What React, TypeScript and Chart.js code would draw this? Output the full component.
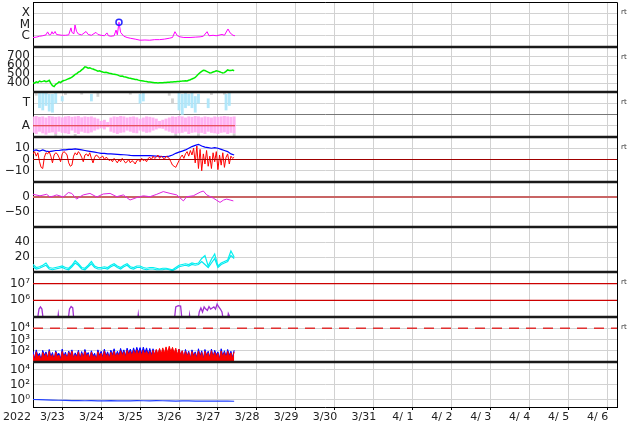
import React, { useEffect, useRef } from 'react';
import { Chart, registerables } from 'chart.js';
Chart.register(...registerables);

// ---------- tick labels ----------
const dayLabels = ['3/23', '3/24', '3/25', '3/26', '3/27', '3/28', '3/29', '3/30', '3/31', '4/ 1', '4/ 2', '4/ 3', '4/ 4', '4/ 5', '4/ 6'];
const yearLabel = '2022';
const xrayTickValues = [1e-6, 1e-5, 1e-4];
const xrayTickLabels = ['C', 'M', 'X'];
const speedTickValues = [400, 500, 600, 700];
const sectorTickValues = [0.5, 1, 1.5];
const sectorTickLabels = ['A', '', 'T'];
const bTickValues = [-10, 0, 10];
const dstTickValues = [-50, 0];
const p6TickValues = [20, 40];
const p7TickValues = [1e6, 1e7];
const p7TickLabels = ['10⁶', '10⁷'];
const p8TickValues = [1e2, 1e3, 1e4];
const p8TickLabels = ['10²', '10³', '10⁴'];
const p9TickValues = [1, 1e2, 1e4];
const p9TickLabels = ['10⁰', '10²', '10⁴'];
const rtLabel = 'rt';

// ---------- data (x in hours since 2022-03-23 00:00 UT) ----------
const dataEndHour = 124.5;

const xrayHours = [0, 2, 4, 6, 8, 9, 10, 11, 11.7, 12.5, 13.6, 14.5, 16, 18, 20, 22, 23.4, 24, 25.2, 25.9, 26.8, 28, 30, 32.7, 34, 36, 38.8, 40, 42, 44, 45.6, 46.5, 48, 50, 51.2, 52, 53, 54, 56, 58, 60, 63, 66, 69, 72, 75, 78, 81, 84, 86, 87.5, 89, 90.6, 93, 96.8, 100, 103, 105, 107.3, 108.5, 111, 113, 116.5, 118, 120.2, 121.5, 123.3, 124.5];
const xrayFlux = [7e-7, 7.5e-7, 9e-7, 1e-6, 1.2e-6, 2.2e-6, 1.2e-6, 1.3e-6, 2.3e-6, 1.4e-6, 2.4e-6, 1.3e-6, 1.2e-6, 1.1e-6, 1.1e-6, 1.2e-6, 5e-6, 2e-6, 1.5e-6, 9e-6, 2.5e-6, 1.4e-6, 1.2e-6, 2.4e-6, 1.3e-6, 1.1e-6, 2e-6, 1.3e-6, 1.1e-6, 1e-6, 1.8e-6, 1e-6, 9e-7, 1e-6, 3.2e-6, 1.2e-6, 1.6e-5, 2e-6, 9e-7, 7e-7, 6e-7, 5e-7, 4e-7, 4.2e-7, 4e-7, 4.5e-7, 4.5e-7, 5e-7, 6e-7, 7e-7, 2.3e-6, 1e-6, 8e-7, 7e-7, 7e-7, 7.5e-7, 8e-7, 9e-7, 2.3e-6, 1e-6, 1.1e-6, 1e-6, 1.3e-6, 1.1e-6, 4e-6, 1.8e-6, 1.1e-6, 1e-6];
const flareHours = [53];
const flareFlux = [1.6e-5];

// solar wind speed, hourly
const speed = [
  403, 398, 412, 405, 422, 415, 418, 425, 414, 420,
  430, 395, 370, 360, 385, 395, 412, 405, 420, 428,
  432, 440, 448, 455, 465, 480, 495, 505, 520, 530,
  545, 560, 580, 575, 565, 570, 560, 555, 548, 540,
  532, 536, 528, 522, 518, 520, 514, 508, 505, 500,
  498, 495, 490, 482, 476, 478, 470, 466, 462, 456,
  452, 448, 444, 440, 438, 432, 428, 425, 422, 418,
  416, 412, 410, 408, 406, 404, 404, 400, 402, 403,
  404, 405, 406, 408, 409, 410, 411, 413, 414, 416,
  418, 420, 421, 423, 425, 422, 430, 436, 445, 452,
  462, 480, 500, 515, 528, 540, 538, 530, 520, 512,
  515, 522, 528, 535, 532, 525, 518, 512, 515, 530,
  545, 540, 538, 545, 536];

// sector (A/T) occupancy, every 2 h
const awayHi = [
  0.9, 0.92, 0.88, 0.9, 0.85, 0.92, 0.9, 0.88, 0.9, 0.86,
  0.9, 0.92, 0.88, 0.9, 0.92, 0.86, 0.9, 0.88, 0.9, 0.85,
  0.8, 0.7, 0.75, 0.65, 0.85, 0.9, 0.88, 0.92, 0.9, 0.85,
  0.88, 0.9, 0.86, 0.8, 0.85, 0.9, 0.88, 0.85, 0.8, 0.7,
  0.75, 0.8, 0.85, 0.9, 0.88, 0.92, 0.9, 0.85, 0.9, 0.88,
  0.92, 0.9, 0.86, 0.9, 0.88, 0.85, 0.9, 0.88, 0.9, 0.92,
  0.9, 0.88, 0.9];
const awayLo = [
  0.2, 0.15, 0.25, 0.18, 0.12, 0.2, 0.22, 0.15, 0.25, 0.2,
  0.18, 0.15, 0.3, 0.2, 0.15, 0.25, 0.2, 0.18, 0.22, 0.3,
  0.35, 0.4, 0.35, 0.45, 0.25, 0.2, 0.15, 0.2, 0.22, 0.3,
  0.25, 0.2, 0.18, 0.3, 0.25, 0.2, 0.22, 0.3, 0.35, 0.4,
  0.38, 0.3, 0.25, 0.2, 0.15, 0.18, 0.2, 0.25, 0.15, 0.2,
  0.22, 0.18, 0.2, 0.15, 0.25, 0.2, 0.18, 0.15, 0.2, 0.22,
  0.15, 0.2, 0.18];
const towardHours = [4, 6, 8, 10, 12, 14, 18, 36, 66, 68, 90, 92, 94, 96, 98, 100, 102, 108, 119, 121];
const towardLo = [1.3, 1.2, 1.4, 1.15, 1.1, 1.5, 1.6, 1.6, 1.5, 1.6, 1.2, 1.0, 1.3, 1.4, 1.3, 1.1, 1.5, 1.3, 1.2, 1.4];
const towardHi = [1.95, 1.95, 1.95, 1.9, 1.9, 1.95, 1.8, 1.9, 1.9, 1.95, 1.95, 1.9, 1.95, 1.9, 1.95, 1.8, 1.9, 1.7, 1.9, 1.95];
const mixedHours = [2, 8, 14, 20, 26, 30, 40, 60, 84, 86, 88, 102, 110, 118, 124];
const mixedLo = [1.85, 1.9, 0.05, 1.88, 0.05, 1.9, 1.8, 1.9, 1.85, 1.5, 0.05, 0.05, 1.88, 1.9, 0.05];
const mixedHi = [1.98, 1.98, 0.15, 1.98, 0.12, 1.98, 1.95, 1.98, 1.98, 1.7, 0.12, 0.15, 1.98, 1.98, 0.15];
const awayLevel = 0.5;

// IMF Bt every 2 h, Bz hourly
const bt = [
  8, 8.5, 7.5, 8.5, 7.5, 7, 7.5, 8, 8, 8.5,
  8.5, 9, 9, 9.5, 9, 8.5, 8, 7.5, 7, 6.5,
  6, 5.5, 5.5, 5, 5, 4.8, 4.6, 4.4, 4.2, 4,
  3.6, 3.4, 3.5, 3.4, 3.4, 3.5, 3.4, 3.2, 3, 2.8,
  2.6, 2.5, 3, 4, 5.5, 6.5, 7.5, 8.5, 10, 11.5,
  12.5, 13.5, 12, 11, 10.5, 10, 10.5, 10, 9, 8,
  7, 5, 4];
const bz = [
  5, 7, 3, 6, -2, -7, -8, 2, 6, 5,
  7, 3, -3, 4, 6, 5, 2, -2, 5, 7,
  6, 4, -3, -6, -5, 3, 6, 4, 7, 5,
  2, -2, 4, 5, 3, 6, 1, -3, 2, 4,
  3, 1, 2, 3, 0, 2, 1, -1, 0, -2,
  1, -1, -3, 0, -2, 1, -1, -3, -2, 0,
  -3, -1, -2, -4, -1, 0, -2, 1, -1, 0,
  -2, 1, 2, 0, 3, 1, 2, 4, 1, 3,
  2, 0, 3, 2, 1, -2, -5, -6, -7, -4,
  -1, 2, 4, 1, 5, 7, 3, 8, 4, 10,
  -3, 12, -8, 9, -10, 5, -4, 8, -6, 3,
  -8, 6, -2, 7, -9, 4, -5, 6, -7, 2,
  5, -4, 3, 1, 2];

// Dst
const dstHours = [0, 4.3, 8.4, 10.5, 12.5, 14.6, 18.7, 21.8, 23.9, 26.9, 29, 31, 35.1, 39.3, 43.3, 47.5, 51.6, 55.7, 59.8, 63.9, 68, 72.1, 76.3, 80.3, 84.5, 88.6, 92.7, 94.8, 98.8, 103, 105, 107.1, 111.2, 115.3, 117.5, 119.4, 121.5, 123.5];
const dst = [9, 4, 9, 0, 3, 7, 0, 15, 12, -7, 1, 7, 12, 0, 10, 12, 1, 7, -10, -2, 4, 1, 9, 18, 12, 7, -13, 1, 4, 16, 20, 7, -4, -18, -10, -7, -10, -13];

// panel 6, two traces every 2 h
const p6a = [
  10, 6, 7, 9, 12, 6, 5, 6, 7, 8,
  6, 5, 9, 15, 11, 6, 5, 9, 14, 8,
  6, 6, 7, 6, 9, 11, 8, 6, 9, 11,
  7, 6, 8, 8, 6, 5, 6, 6, 5, 4,
  5, 5, 4, 3, 6, 9, 10, 11, 10, 12,
  11, 12, 18, 22, 8, 17, 24, 8, 12, 14,
  16, 28, 20];
const p6b = [
  7, 4, 5, 7, 9, 4, 3, 4, 5, 6,
  4, 3, 7, 12, 9, 4, 3, 7, 11, 6,
  4, 4, 5, 4, 7, 9, 6, 4, 7, 9,
  5, 4, 6, 6, 4, 3, 4, 4, 3, 3,
  3, 4, 3, 2, 4, 7, 8, 9, 8, 10,
  9, 10, 14, 10, 6, 12, 18, 6, 10, 12,
  14, 22, 18];

// electron flux
const electronHours = [2.5, 3.7, 4.6, 5.5, 6.5, 15, 15.6, 16.2, 21.5, 22.5, 23.5, 24.5, 25.3, 64.3, 64.9, 65.5, 87, 88, 89.5, 91, 92, 96, 96.5, 97, 101.5, 102.5, 103.5, 104.5, 105.5, 106.5, 107.5, 108.5, 109.5, 110.5, 111.5, 112.5, 113.5, 114.5, 115.5, 116.5, 117.5, 119.7, 120.4, 121, 121.7];
const electronFlux = [5e4, 3e5, 4e5, 3e5, 5e4, 5e4, 1.5e5, 5e4, 5e4, 3e5, 4.3e5, 3.5e5, 5e4, 5e4, 1.5e5, 5e4, 5e4, 4e5, 4.8e5, 4.5e5, 5e4, 5e4, 1.3e5, 5e4, 5e4, 2e5, 3.5e5, 2e5, 4e5, 3e5, 2.5e5, 4.2e5, 3e5, 3.5e5, 4e5, 3e5, 6e5, 4e5, 3e5, 2e5, 5e4, 5e4, 1.6e5, 1.2e5, 5e4];
const electronThresholds = [1e6, 1e7];

// proton flux, hourly
const protonBlue = [
  90, 20, 120, 35, 60, 15, 110, 40, 80, 25,
  130, 30, 70, 18, 100, 45, 60, 20, 140, 30,
  75, 22, 95, 40, 120, 25, 65, 35, 110, 20,
  85, 30, 130, 45, 70, 22, 100, 35, 60, 18,
  120, 40, 90, 28, 140, 35, 80, 25, 110, 45,
  150, 30, 90, 40, 160, 50, 120, 35, 170, 60,
  140, 45, 180, 60, 200, 70, 190, 55, 210, 65,
  180, 50, 160, 45, 150, 40, 120, 35, 140, 30,
  110, 40, 130, 25, 100, 35, 150, 45, 120, 30,
  140, 40, 100, 25, 130, 35, 90, 20, 120, 40,
  80, 25, 150, 35, 100, 20, 130, 40, 90, 25,
  140, 30, 110, 45, 80, 20, 150, 35, 100, 30,
  130, 40, 90, 25, 110];
const protonRed = [
  50, 15, 80, 25, 40, 12, 70, 30, 55, 20,
  90, 22, 45, 15, 75, 30, 40, 14, 85, 25,
  50, 18, 70, 30, 90, 20, 45, 25, 80, 15,
  60, 22, 85, 30, 50, 18, 75, 25, 40, 15,
  80, 30, 60, 20, 95, 25, 55, 18, 75, 30,
  90, 25, 60, 30, 100, 35, 80, 25, 110, 40,
  90, 30, 110, 40, 120, 45, 100, 35, 115, 40,
  100, 35, 90, 30, 110, 40, 130, 45, 160, 50,
  180, 60, 220, 70, 250, 80, 200, 60, 170, 45,
  140, 40, 100, 25, 90, 30, 70, 20, 85, 30,
  60, 18, 95, 25, 70, 15, 90, 30, 65, 20,
  100, 25, 75, 30, 60, 15, 95, 25, 70, 20,
  90, 30, 65, 20, 80];
const protonThreshold = [1e4];

// panel 9, every 4 h
const p9 = [
  1.0, 0.95, 0.9, 0.85, 0.8, 0.75, 0.7, 0.72, 0.68, 0.7,
  0.65, 0.67, 0.7, 0.66, 0.68, 0.65, 0.7, 0.68, 0.66, 0.7,
  0.68, 0.65, 0.62, 0.66, 0.64, 0.62, 0.6, 0.63, 0.6, 0.62,
  0.6, 0.58];

// ---------- helpers ----------
const stepPts = (vals: number[], step: number) => vals.map((v, i) => ({ x: i * step, y: v }));
const pairPts = (hs: number[], vals: number[]) => hs.map((h, i) => ({ x: h, y: vals[i] }));
const rangeStepPts = (lo: number[], hi: number[], step: number) => lo.map((l, i) => ({ x: i * step, y: [l, hi[i]] }));
const rangePts = (hs: number[], lo: number[], hi: number[]) => hs.map((h, i) => ({ x: h, y: [lo[i], hi[i]] }));
const hLine = (v: number, x0 = 0, x1 = 360) => [{ x: x0, y: v }, { x: x1, y: v }];

const XFONT = { family: 'DejaVu Sans', size: 11 };
const YFONT = { family: 'DejaVu Sans', size: 12 };
const GRID = '#d2d2d2';
const PANELS = ['y1', 'y2', 'y3', 'y4', 'y5', 'y6', 'y7', 'y8', 'y9'];
const RT_PANELS = [0, 1, 2, 3, 6, 7];

function yAxis(idx: number, type: string, min: number, max: number, vals: number[], labels: string[] | null, gridColor?: any) {
  return {
    type,
    axis: 'y',
    position: 'left',
    stack: 'panels',
    stackWeight: 1,
    weight: 20 - idx,
    min,
    max,
    offset: false,
    border: { display: true, color: '#000', width: 1 },
    grid: { color: gridColor || GRID, drawTicks: false, lineWidth: 1 },
    ticks: {
      font: YFONT,
      color: '#222',
      padding: 3,
      autoSkip: false,
      callback: (v: number, i: number) => (labels ? labels[i] : String(v).replace('-', '−')),
    },
    afterBuildTicks: (s: any) => { s.ticks = vals.map((v) => ({ value: v })); },
    afterFit: (s: any) => { s.width = 33; s.paddingTop = 0; s.paddingBottom = 0; },
  };
}

const panelClip = {
  id: 'panelClip',
  beforeDatasetDraw(chart: any, args: any) {
    const ys = args.meta.yScale;
    const a = chart.chartArea;
    const ctx = chart.ctx;
    ctx.save();
    ctx.beginPath();
    ctx.rect(a.left, ys.top, a.right - a.left, ys.bottom - ys.top);
    ctx.clip();
  },
  afterDatasetDraw(chart: any) {
    chart.ctx.restore();
  },
};

const decor = {
  id: 'decor',
  afterDatasetsDraw(chart: any) {
    const { ctx, chartArea: a } = chart;
    const ys = PANELS.map((id) => chart.scales[id]);
    ctx.save();
    ctx.strokeStyle = '#1a1a1a';
    ctx.lineWidth = 2.5;
    ys.slice(0, -1).forEach((s: any) => {
      ctx.beginPath();
      ctx.moveTo(a.left, s.bottom);
      ctx.lineTo(a.right, s.bottom);
      ctx.stroke();
    });
    ctx.lineWidth = 1;
    ctx.strokeStyle = '#000';
    ctx.beginPath();
    ctx.moveTo(a.left, a.top + 0.5);
    ctx.lineTo(a.right + 0.5, a.top + 0.5);
    ctx.lineTo(a.right + 0.5, a.bottom);
    ctx.stroke();
    ctx.fillStyle = '#333';
    ctx.font = '7px "DejaVu Sans"';
    ctx.textBaseline = 'middle';
    ctx.textAlign = 'left';
    RT_PANELS.forEach((i) => ctx.fillText(rtLabel, a.right + 4, ys[i].top + 10));
    ctx.fillStyle = '#222';
    ctx.font = '11px "DejaVu Sans"';
    ctx.textAlign = 'right';
    ctx.fillText(yearLabel, a.left - 2, a.bottom + 10);
    ctx.restore();
  },
};

export default function App() {
  const ref = useRef<HTMLCanvasElement>(null);
  useEffect(() => {
    const line = (yAxisID: string, data: any[], color: string, width: number, order: number, extra: any = {}) => ({
      type: 'line', yAxisID, xAxisID: 'x', data, borderColor: color, backgroundColor: color,
      borderWidth: width, pointRadius: 0, tension: 0, order, ...extra,
    });
    const bars = (yAxisID: string, data: any[], color: string, thickness: number, order: number) => ({
      type: 'bar', yAxisID, xAxisID: 'x', data, backgroundColor: color, borderWidth: 0,
      barThickness: thickness, grouped: false, order,
    });
    const datasets: any[] = [
      // panel 1
      line('y1', pairPts(xrayHours, xrayFlux), '#ff00ff', 1, 2),
      line('y1', pairPts(flareHours, flareFlux), '#2a2aff', 0, 1, {
        showLine: false, pointRadius: 3, pointBorderWidth: 1.5, pointBorderColor: '#2a2aff', pointBackgroundColor: 'rgba(0,0,0,0)',
      }),
      // panel 2
      line('y2', stepPts(speed, 1), '#00ee00', 1.5, 2),
      // panel 3
      line('y3', hLine(awayLevel, 0, dataEndHour), '#e03030', 1, 1),
      bars('y3', rangeStepPts(awayLo, awayHi, 2), 'rgba(255,170,242,0.9)', 2.3, 4),
      bars('y3', rangePts(towardHours, towardLo, towardHi), 'rgba(170,228,250,0.9)', 2.2, 3),
      bars('y3', rangePts(mixedHours, mixedLo, mixedHi), 'rgba(205,205,205,0.9)', 2.2, 5),
      // panel 4
      line('y4', hLine(0), '#a00000', 1, 1),
      line('y4', stepPts(bz, 1), '#ff0000', 1, 2),
      line('y4', stepPts(bt, 2), '#0000ff', 1.2, 3),
      // panel 5
      line('y5', hLine(0), '#c86464', 2, 2),
      line('y5', pairPts(dstHours, dst), '#e020e0', 1, 1),
      // panel 6
      line('y6', stepPts(p6a, 2), '#00f0f0', 1.2, 1),
      line('y6', stepPts(p6b, 2), '#00e8f0', 1.2, 2),
      // panel 7
      ...electronThresholds.map((v) => line('y7', hLine(v), '#cc0000', 1.2, 1)),
      line('y7', pairPts(electronHours, electronFlux), '#a030d0', 1.3, 2),
      // panel 8
      ...protonThreshold.map((v) => line('y8', hLine(v), '#e03030', 1.5, 1, { borderDash: [10, 7] })),
      line('y8', stepPts(protonRed, 1), '#ff0000', 1, 2, { fill: 'start', backgroundColor: '#ff0000' }),
      line('y8', stepPts(protonBlue, 1), '#0000ff', 1, 3, { fill: 'start', backgroundColor: '#0000ff' }),
      // panel 9
      line('y9', stepPts(p9, 4), '#2040ff', 1.2, 1),
    ];

    const chart = new Chart(ref.current as HTMLCanvasElement, {
      type: 'line',
      data: { datasets },
      options: {
        responsive: false,
        animation: false,
        devicePixelRatio: 1,
        layout: { autoPadding: false, padding: { top: 2, right: 17, left: 0, bottom: 0 } },
        plugins: { legend: { display: false }, tooltip: { enabled: false } },
        elements: { point: { radius: 0 } },
        scales: {
          x: {
            type: 'linear',
            position: 'bottom',
            min: 0,
            max: 360,
            offset: false,
            border: { display: true, color: '#000', width: 1 },
            grid: {
              color: (c: any) => (c.tick && c.tick.value % 24 === 0 ? GRID : 'rgba(0,0,0,0)'),
              tickColor: (c: any) => (c.tick && c.tick.value % 24 === 0 ? '#000' : 'rgba(0,0,0,0)'),
              tickLength: 3,
            },
            ticks: {
              stepSize: 12,
              autoSkip: false,
              maxRotation: 0,
              font: XFONT,
              color: '#222',
              padding: 1,
              callback: (v: number) => (v % 24 === 12 ? dayLabels[(v - 12) / 24] : ''),
            },
            afterFit: (s: any) => { s.height = 17; s.paddingLeft = 0; s.paddingRight = 0; },
          },
          y1: yAxis(1, 'logarithmic', 1e-7, 1e-3, xrayTickValues, xrayTickLabels),
          y2: yAxis(2, 'linear', 300, 800, speedTickValues, null),
          y3: yAxis(3, 'linear', 0, 2, sectorTickValues, sectorTickLabels, (c: any) => (c.tick && c.tick.value === 1 ? '#777' : GRID)),
          y4: yAxis(4, 'linear', -20, 20, bTickValues, null),
          y5: yAxis(5, 'linear', -100, 50, dstTickValues, null),
          y6: yAxis(6, 'linear', 0, 60, p6TickValues, null),
          y7: yAxis(7, 'logarithmic', 1e5, 5e7, p7TickValues, p7TickLabels),
          y8: yAxis(8, 'logarithmic', 10, 1e5, p8TickValues, p8TickLabels),
          y9: yAxis(9, 'logarithmic', 0.1, 1e5, p9TickValues, p9TickLabels),
        } as any,
      },
      plugins: [panelClip, decor],
    } as any);
    return () => chart.destroy();
  }, []);

  return (
    <div style={{ position: 'absolute', left: 0, top: 0, width: 634, height: 424, background: '#fff' }}>
      <canvas ref={ref} width={634} height={424} style={{ display: 'block' }} />
    </div>
  );
}
